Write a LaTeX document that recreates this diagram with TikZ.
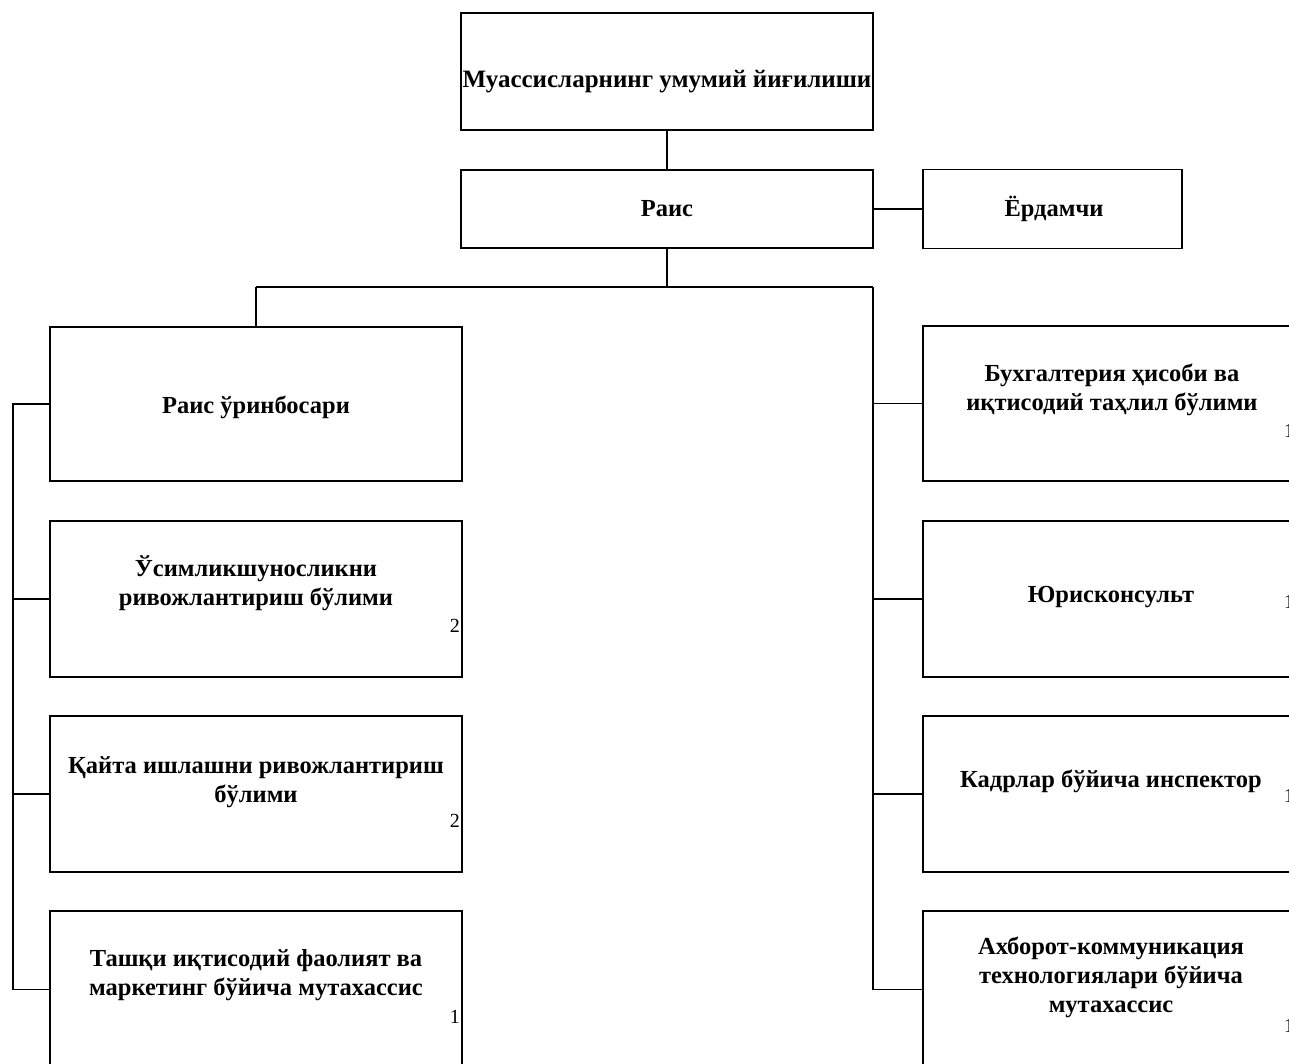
\documentclass[tikz,border=0pt]{standalone}
\usepackage{fontspec}
\setmainfont{Liberation Serif}
\begin{document}
\begin{tikzpicture}[x=1pt,y=-1pt,
  box/.style={draw, line width=1.7pt, inner sep=0pt, rectangle},
  conn/.style={line width=1.7pt},
  txt/.style={font=\bfseries\fontsize{24.5}{29}\selectfont, align=center, inner sep=0pt, anchor=base},
  num/.style={font=\fontsize{20}{24}\selectfont, inner sep=0pt, anchor=base east},
  numr/.style={font=\fontsize{20}{24}\selectfont, inner sep=0pt, anchor=base west}]
\path[use as bounding box] (0,0) rectangle (1289,1064);
\clip (0,0) rectangle (1289,1064);
\fill[white] (0,0) rectangle (1289,1064);
% boxes
\node[box, minimum width=412pt, minimum height=117pt] (top) at (667,71.5) {};
\node[box, minimum width=412pt, minimum height=78pt] (rais) at (667,209) {};
\node[box, minimum width=259pt, minimum height=79pt] (yord) at (1052.5,209) {};
\node[box, minimum width=412pt, minimum height=154pt] (L1) at (256,404) {};
\node[box, minimum width=412pt, minimum height=156pt] (L2) at (256,599) {};
\node[box, minimum width=412pt, minimum height=156pt] (L3) at (256,794) {};
\node[box, minimum width=412pt, minimum height=157pt] (L4) at (256,989.5) {};
\node[box, minimum width=376pt, minimum height=155pt] (R1) at (1111,403.5) {};
\node[box, minimum width=376pt, minimum height=156pt] (R2) at (1111,599) {};
\node[box, minimum width=376pt, minimum height=156pt] (R3) at (1111,794) {};
\node[box, minimum width=376pt, minimum height=157pt] (R4) at (1111,989.5) {};
% texts
\node[txt, font=\bfseries\fontsize{25}{30}\selectfont] (ttop) at (667,88) {Муассисларнинг умумий йиғилиши};
\node[txt] (trais) at (667,217) {Раис};
\node[txt] (tyord) at (1054,217) {Ёрдамчи};
\node[txt] (tL1) at (256,413) {Раис ўринбосари};
\node[txt] (tL2) at (256,605) {Ўсимликшуносликни\\ривожлантириш бўлими};
\node[txt] (tL3) at (256,802) {Қайта ишлашни ривожлантириш\\бўлими};
\node[txt] (tL4) at (256,995) {Ташқи иқтисодий фаолият ва\\маркетинг бўйича мутахассис};
\node[txt] (tR1) at (1112,410) {Бухгалтерия ҳисоби ва\\иқтисодий таҳлил бўлими};
\node[txt] (tR2) at (1111,602) {Юрисконсульт};
\node[txt] (tR3) at (1111,787) {Кадрлар бўйича инспектор};
\node[txt] (tR4) at (1111,1012) {Ахборот-коммуникация\\технологиялари бўйича\\мутахассис};
% numbers
\node[num] (n2) at (460,632) {2};
\node[num] (n3) at (460,827) {2};
\node[num] (n4) at (460,1023) {1};
\node[numr] (m1) at (1284,437) {1};
\node[numr] (m2) at (1284,608) {1};
\node[numr] (m3) at (1284,802) {1};
\node[numr] (m4) at (1284,1032) {1};
% connectors
\coordinate (hl) at (256,287);
\coordinate (hm) at (667,287);
\coordinate (hr) at (873,287);
\coordinate (lx) at (13,0);
\draw[conn] (top.south) -- (rais.north);
\draw[conn] (rais.east) -- (yord.west);
\draw[conn] (rais.south) -- (hm);
\draw[conn] (hl) -- (hr);
\draw[conn] (hl) -- (L1.north);
\draw[conn] (hr) |- (R4.west);
\draw[conn] (R1.west) -- (R1.west -| hr);
\draw[conn] (R2.west) -- (R2.west -| hr);
\draw[conn] (R3.west) -- (R3.west -| hr);
\draw[conn] (L1.west) -- (L1.west -| lx) |- (L4.west);
\draw[conn] (L2.west) -- (L2.west -| lx);
\draw[conn] (L3.west) -- (L3.west -| lx);
\end{tikzpicture}
\end{document}
